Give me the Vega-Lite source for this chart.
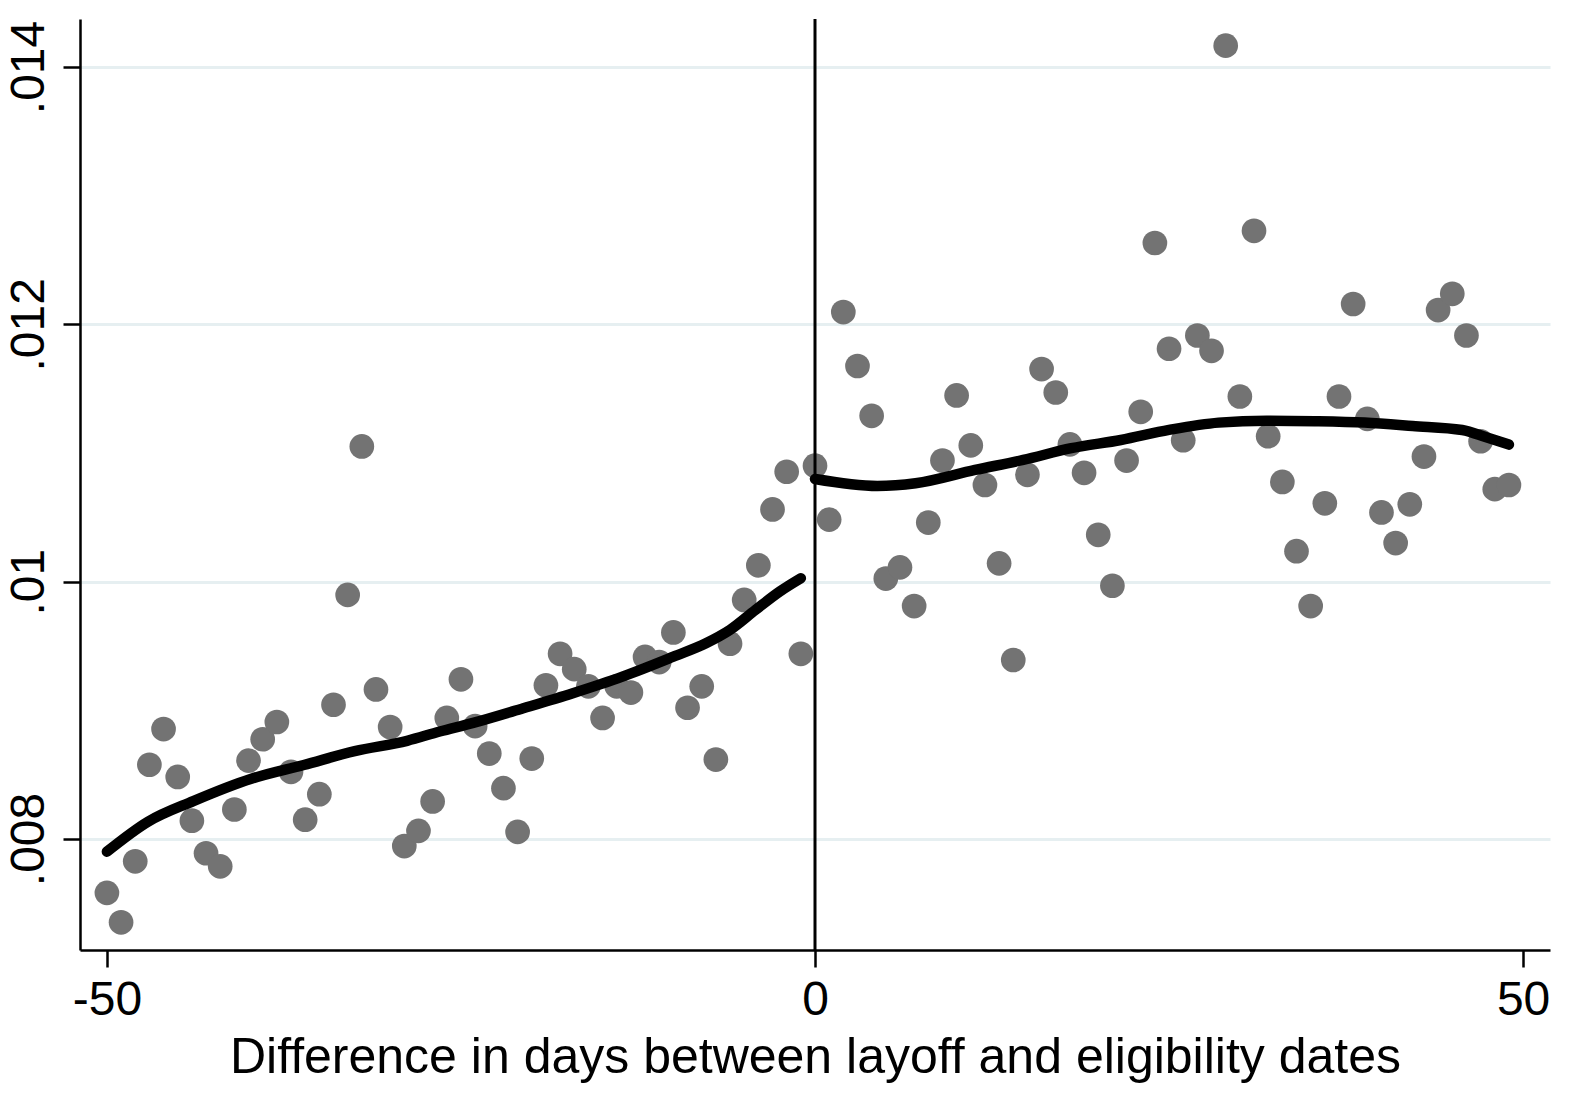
{
  "$schema": "https://vega.github.io/schema/vega-lite/v6.json",
  "width": 1470,
  "height": 931,
  "autosize": "none",
  "padding": {"left": 80, "top": 19, "right": 44, "bottom": 156},
  "background": "white",
  "config": {
    "view": {"stroke": null},
    "font": "Liberation Sans",
    "axis": {
      "domainColor": "black",
      "domainWidth": 2.5,
      "tickColor": "black",
      "tickWidth": 2.5,
      "tickSize": 17,
      "labelColor": "black",
      "labelFont": "Liberation Sans",
      "labelFontSize": 48,
      "titleFont": "Liberation Sans",
      "titleFontSize": 50,
      "titleFontWeight": "normal",
      "titleColor": "black"
    }
  },
  "datasets": {
    "bins": [
      {"days": -50, "rate": 0.007581}, {"days": -49, "rate": 0.007352},
      {"days": -48, "rate": 0.007826}, {"days": -47, "rate": 0.008577},
      {"days": -46, "rate": 0.008854}, {"days": -45, "rate": 0.008482},
      {"days": -44, "rate": 0.008142}, {"days": -43, "rate": 0.007889},
      {"days": -42, "rate": 0.007787}, {"days": -41, "rate": 0.008229},
      {"days": -40, "rate": 0.008609}, {"days": -39, "rate": 0.008775},
      {"days": -38, "rate": 0.008909}, {"days": -37, "rate": 0.008522},
      {"days": -36, "rate": 0.008150}, {"days": -35, "rate": 0.008348},
      {"days": -34, "rate": 0.009043}, {"days": -33, "rate": 0.009897},
      {"days": -32, "rate": 0.011051}, {"days": -31, "rate": 0.009162},
      {"days": -30, "rate": 0.008870}, {"days": -29, "rate": 0.007945},
      {"days": -28, "rate": 0.008063}, {"days": -27, "rate": 0.008292},
      {"days": -26, "rate": 0.008941}, {"days": -25, "rate": 0.009241},
      {"days": -24, "rate": 0.008877}, {"days": -23, "rate": 0.008664},
      {"days": -22, "rate": 0.008395}, {"days": -21, "rate": 0.008055},
      {"days": -20, "rate": 0.008625}, {"days": -19, "rate": 0.009194},
      {"days": -18, "rate": 0.009439}, {"days": -17, "rate": 0.009320},
      {"days": -16, "rate": 0.009186}, {"days": -15, "rate": 0.008941},
      {"days": -14, "rate": 0.009186}, {"days": -13, "rate": 0.009138},
      {"days": -12, "rate": 0.009415}, {"days": -11, "rate": 0.009375},
      {"days": -10, "rate": 0.009605}, {"days": -9, "rate": 0.009020},
      {"days": -8, "rate": 0.009186}, {"days": -7, "rate": 0.008617},
      {"days": -6, "rate": 0.009518}, {"days": -5, "rate": 0.009858},
      {"days": -4, "rate": 0.010127}, {"days": -3, "rate": 0.010561},
      {"days": -2, "rate": 0.010854}, {"days": -1, "rate": 0.009439},
      {"days": 0, "rate": 0.010901}, {"days": 1, "rate": 0.010482},
      {"days": 2, "rate": 0.012095}, {"days": 3, "rate": 0.011676},
      {"days": 4, "rate": 0.011289}, {"days": 5, "rate": 0.010024},
      {"days": 6, "rate": 0.010111}, {"days": 7, "rate": 0.009810},
      {"days": 8, "rate": 0.010459}, {"days": 9, "rate": 0.010941},
      {"days": 10, "rate": 0.011447}, {"days": 11, "rate": 0.011059},
      {"days": 12, "rate": 0.010751}, {"days": 13, "rate": 0.010142},
      {"days": 14, "rate": 0.009391}, {"days": 15, "rate": 0.010830},
      {"days": 16, "rate": 0.011652}, {"days": 17, "rate": 0.011470},
      {"days": 18, "rate": 0.011067}, {"days": 19, "rate": 0.010846},
      {"days": 20, "rate": 0.010364}, {"days": 21, "rate": 0.009968},
      {"days": 22, "rate": 0.010941}, {"days": 23, "rate": 0.011320},
      {"days": 24, "rate": 0.012632}, {"days": 25, "rate": 0.011810},
      {"days": 26, "rate": 0.011099}, {"days": 27, "rate": 0.011913},
      {"days": 28, "rate": 0.011794}, {"days": 29, "rate": 0.014166},
      {"days": 30, "rate": 0.011439}, {"days": 31, "rate": 0.012727},
      {"days": 32, "rate": 0.011130}, {"days": 33, "rate": 0.010775},
      {"days": 34, "rate": 0.010237}, {"days": 35, "rate": 0.009810},
      {"days": 36, "rate": 0.010609}, {"days": 37, "rate": 0.011439},
      {"days": 38, "rate": 0.012158}, {"days": 39, "rate": 0.011265},
      {"days": 40, "rate": 0.010538}, {"days": 41, "rate": 0.010300},
      {"days": 42, "rate": 0.010601}, {"days": 43, "rate": 0.010972},
      {"days": 44, "rate": 0.012111}, {"days": 45, "rate": 0.012237},
      {"days": 46, "rate": 0.011913}, {"days": 47, "rate": 0.011091},
      {"days": 48, "rate": 0.010719}, {"days": 49, "rate": 0.010751}
    ],
    "fit": [
      {"side": "left", "days": -50, "fit": 0.007901},
      {"side": "left", "days": -47.1, "fit": 0.008134},
      {"side": "left", "days": -43.9, "fit": 0.008294},
      {"side": "left", "days": -39.8, "fit": 0.008468},
      {"side": "left", "days": -36.1, "fit": 0.008575},
      {"side": "left", "days": -32.5, "fit": 0.008682},
      {"side": "left", "days": -28.8, "fit": 0.008763},
      {"side": "left", "days": -26.5, "fit": 0.008835},
      {"side": "left", "days": -24.2, "fit": 0.008900},
      {"side": "left", "days": -20.6, "fit": 0.009016},
      {"side": "left", "days": -17.1, "fit": 0.009133},
      {"side": "left", "days": -13.6, "fit": 0.009262},
      {"side": "left", "days": -10.0, "fit": 0.009417},
      {"side": "left", "days": -7.7, "fit": 0.009521},
      {"side": "left", "days": -6.0, "fit": 0.009625},
      {"side": "left", "days": -4.2, "fit": 0.009780},
      {"side": "left", "days": -2.5, "fit": 0.009922},
      {"side": "left", "days": -1, "fit": 0.010026},
      {"side": "right", "days": 0, "fit": 0.010798},
      {"side": "right", "days": 4.4, "fit": 0.010744},
      {"side": "right", "days": 7.1, "fit": 0.010765},
      {"side": "right", "days": 11.3, "fit": 0.010868},
      {"side": "right", "days": 14.7, "fit": 0.010946},
      {"side": "right", "days": 18.1, "fit": 0.011037},
      {"side": "right", "days": 21.6, "fit": 0.011101},
      {"side": "right", "days": 25.0, "fit": 0.011179},
      {"side": "right", "days": 28.5, "fit": 0.011236},
      {"side": "right", "days": 31.9, "fit": 0.011251},
      {"side": "right", "days": 35.3, "fit": 0.011247},
      {"side": "right", "days": 38.8, "fit": 0.011236},
      {"side": "right", "days": 42.2, "fit": 0.011210},
      {"side": "right", "days": 45.7, "fit": 0.011179},
      {"side": "right", "days": 47.4, "fit": 0.011122},
      {"side": "right", "days": 49, "fit": 0.011065}
    ],
    "cutoff": [{"days": 0}]
  },
  "layer": [
    {
      "data": {"name": "bins"},
      "mark": {"type": "point", "shape": "circle", "filled": true, "opacity": 1, "size": 610, "color": "#737373", "strokeWidth": 0},
      "encoding": {
        "x": {
          "field": "days",
          "type": "quantitative",
          "scale": {"domain": [-51.9, 51.9], "nice": false, "zero": false},
          "axis": {
            "values": [-50, 0, 50],
            "grid": false,
            "labelPadding": 9,
            "labelExpr": "'' + datum.value",
            "title": "Difference in days between layoff and eligibility dates",
            "titlePadding": 8
          }
        },
        "y": {
          "field": "rate",
          "type": "quantitative",
          "scale": {"domain": [0.007137, 0.014373], "nice": false, "zero": false},
          "axis": {
            "values": [0.008, 0.01, 0.012, 0.014],
            "grid": true,
            "gridColor": "#e6eff1",
            "gridWidth": 3,
            "labelAngle": -90,
            "labelAlign": "center",
            "labelBaseline": "alphabetic",
            "labelPadding": 20,
            "labelExpr": "slice(format(datum.value, '.3~f'), 1)",
            "title": null
          }
        }
      }
    },
    {
      "data": {"name": "fit"},
      "mark": {"type": "line", "color": "black", "strokeWidth": 10.5, "strokeCap": "round", "strokeJoin": "round", "interpolate": "monotone"},
      "encoding": {
        "x": {"field": "days", "type": "quantitative"},
        "y": {"field": "fit", "type": "quantitative"},
        "detail": {"field": "side", "type": "nominal"}
      }
    },
    {
      "data": {"name": "cutoff"},
      "mark": {"type": "rule", "color": "black", "strokeWidth": 3},
      "encoding": {
        "x": {"field": "days", "type": "quantitative"}
      }
    }
  ]
}
